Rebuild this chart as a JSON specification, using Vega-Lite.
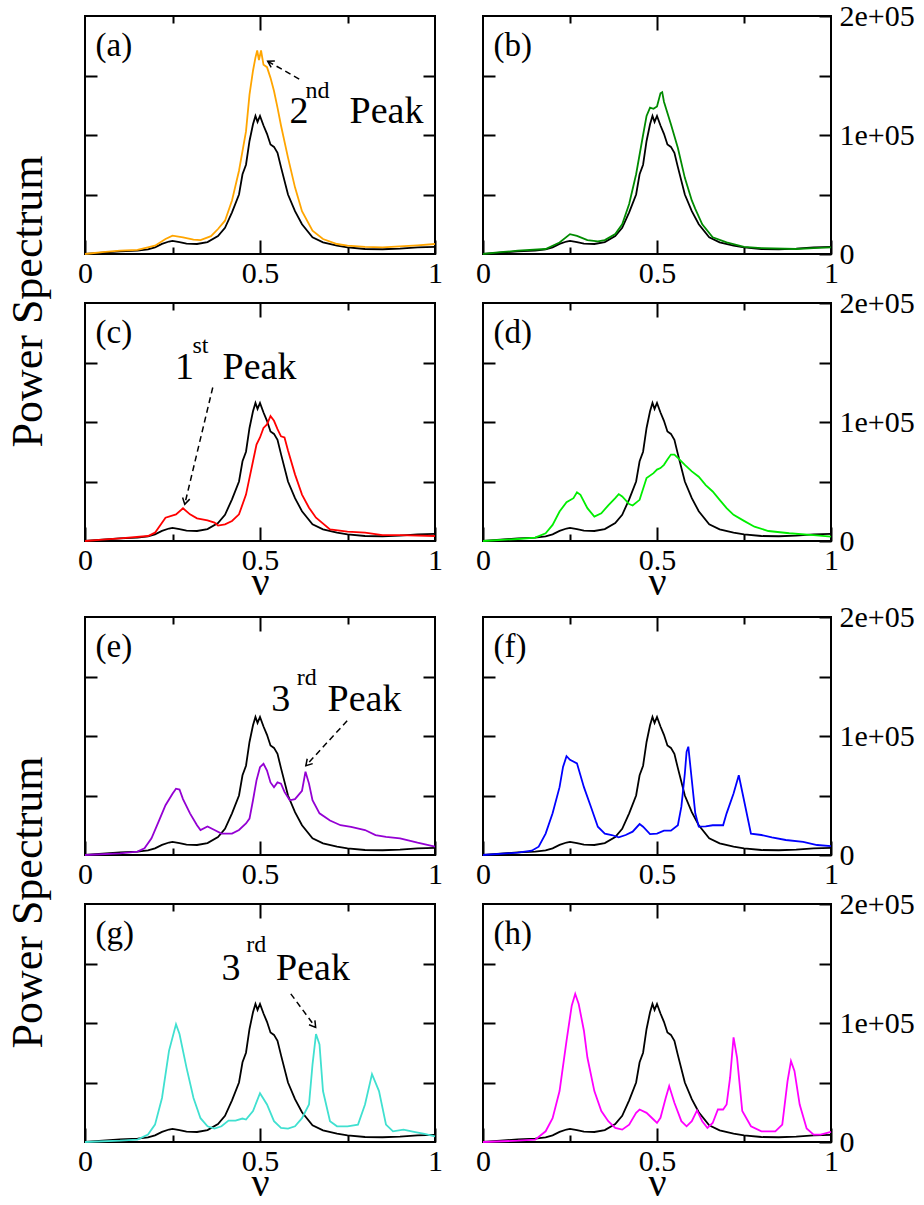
{
"$schema": "https://vega.github.io/schema/vega-lite/v6.json",
"padding": {"left": 6, "top": 0, "right": 0, "bottom": 0},
"background": "white",
"config": {
  "view": {"stroke": "black", "strokeWidth": 2},
  "axis": {"labelFont": "Liberation Serif", "titleFont": "Liberation Serif", "labelColor": "black", "titleColor": "black", "tickColor": "black", "tickWidth": 2, "domain": false, "grid": false, "labelFontSize": 30, "labelFlush": false, "labelOverlap": false, "titleFontWeight": "normal", "titleFontSize": 40},
  "title": {"font": "Liberation Serif", "fontWeight": "normal", "color": "black"},
  "text": {"font": "Liberation Serif", "color": "black"}
},
"datasets": {
  "ref": [{"nu":0,"p":0},{"nu":0.05,"p":1200},{"nu":0.1,"p":2200},{"nu":0.15,"p":2800},{"nu":0.18,"p":3800},{"nu":0.2,"p":5600},{"nu":0.22,"p":8500},{"nu":0.24,"p":10500},{"nu":0.25,"p":11000},{"nu":0.27,"p":10000},{"nu":0.29,"p":8800},{"nu":0.32,"p":8400},{"nu":0.35,"p":10000},{"nu":0.38,"p":15000},{"nu":0.4,"p":22000},{"nu":0.42,"p":35000},{"nu":0.44,"p":50000},{"nu":0.45,"p":67000},{"nu":0.46,"p":75000},{"nu":0.47,"p":95000},{"nu":0.48,"p":109000},{"nu":0.487,"p":116000},{"nu":0.493,"p":111000},{"nu":0.5,"p":116000},{"nu":0.51,"p":108000},{"nu":0.52,"p":101000},{"nu":0.53,"p":92000},{"nu":0.54,"p":90000},{"nu":0.55,"p":85000},{"nu":0.56,"p":73000},{"nu":0.58,"p":50000},{"nu":0.6,"p":36000},{"nu":0.62,"p":25000},{"nu":0.65,"p":14000},{"nu":0.68,"p":9800},{"nu":0.72,"p":7000},{"nu":0.75,"p":5600},{"nu":0.8,"p":4200},{"nu":0.85,"p":4000},{"nu":0.9,"p":4500},{"nu":0.95,"p":5500},{"nu":1,"p":6000}],
  "a": [{"nu":0,"p":0},{"nu":0.05,"p":1500},{"nu":0.1,"p":2800},{"nu":0.15,"p":3500},{"nu":0.2,"p":7000},{"nu":0.23,"p":12600},{"nu":0.25,"p":15400},{"nu":0.28,"p":14000},{"nu":0.31,"p":12000},{"nu":0.33,"p":11700},{"nu":0.36,"p":15000},{"nu":0.38,"p":21000},{"nu":0.4,"p":28000},{"nu":0.42,"p":45000},{"nu":0.44,"p":70000},{"nu":0.46,"p":103000},{"nu":0.47,"p":134000},{"nu":0.48,"p":154000},{"nu":0.487,"p":165000},{"nu":0.492,"p":171000},{"nu":0.497,"p":163000},{"nu":0.503,"p":171000},{"nu":0.51,"p":159000},{"nu":0.52,"p":157000},{"nu":0.53,"p":148000},{"nu":0.54,"p":137000},{"nu":0.55,"p":123000},{"nu":0.56,"p":108000},{"nu":0.58,"p":81000},{"nu":0.6,"p":56000},{"nu":0.62,"p":36000},{"nu":0.65,"p":19600},{"nu":0.68,"p":12600},{"nu":0.72,"p":8400},{"nu":0.75,"p":7000},{"nu":0.8,"p":6000},{"nu":0.85,"p":5600},{"nu":0.9,"p":6400},{"nu":0.95,"p":7300},{"nu":1,"p":8400}],
  "b": [{"nu":0,"p":0},{"nu":0.05,"p":1500},{"nu":0.1,"p":2800},{"nu":0.18,"p":4200},{"nu":0.22,"p":9700},{"nu":0.25,"p":16700},{"nu":0.27,"p":15300},{"nu":0.3,"p":11700},{"nu":0.33,"p":10600},{"nu":0.35,"p":11700},{"nu":0.38,"p":16700},{"nu":0.4,"p":25000},{"nu":0.42,"p":42000},{"nu":0.44,"p":67000},{"nu":0.46,"p":100000},{"nu":0.47,"p":116000},{"nu":0.48,"p":123000},{"nu":0.49,"p":122000},{"nu":0.5,"p":124000},{"nu":0.51,"p":135000},{"nu":0.515,"p":136000},{"nu":0.52,"p":128000},{"nu":0.54,"p":109000},{"nu":0.56,"p":89000},{"nu":0.58,"p":64000},{"nu":0.6,"p":45000},{"nu":0.61,"p":38000},{"nu":0.63,"p":25000},{"nu":0.66,"p":14000},{"nu":0.7,"p":9700},{"nu":0.75,"p":6000},{"nu":0.8,"p":5000},{"nu":0.9,"p":4200},{"nu":0.95,"p":5000},{"nu":1,"p":5600}],
  "c": [{"nu":0,"p":0},{"nu":0.05,"p":1200},{"nu":0.1,"p":2200},{"nu":0.18,"p":4200},{"nu":0.2,"p":7000},{"nu":0.23,"p":19600},{"nu":0.26,"p":22400},{"nu":0.28,"p":27500},{"nu":0.3,"p":22400},{"nu":0.32,"p":19000},{"nu":0.35,"p":17400},{"nu":0.37,"p":15400},{"nu":0.38,"p":13000},{"nu":0.4,"p":14000},{"nu":0.42,"p":16800},{"nu":0.44,"p":22400},{"nu":0.46,"p":39000},{"nu":0.47,"p":53000},{"nu":0.48,"p":67000},{"nu":0.49,"p":81000},{"nu":0.5,"p":87000},{"nu":0.51,"p":95000},{"nu":0.52,"p":98000},{"nu":0.53,"p":105000},{"nu":0.54,"p":101000},{"nu":0.55,"p":94000},{"nu":0.56,"p":88000},{"nu":0.57,"p":87000},{"nu":0.58,"p":76000},{"nu":0.6,"p":56000},{"nu":0.62,"p":39000},{"nu":0.64,"p":28000},{"nu":0.66,"p":19600},{"nu":0.7,"p":9800},{"nu":0.75,"p":7800},{"nu":0.8,"p":7000},{"nu":0.85,"p":5000},{"nu":0.9,"p":5000},{"nu":1,"p":4200}],
  "d": [{"nu":0,"p":0},{"nu":0.1,"p":1700},{"nu":0.15,"p":2800},{"nu":0.18,"p":6500},{"nu":0.2,"p":13500},{"nu":0.22,"p":24800},{"nu":0.24,"p":32600},{"nu":0.26,"p":36000},{"nu":0.27,"p":41000},{"nu":0.28,"p":38800},{"nu":0.3,"p":27600},{"nu":0.32,"p":20500},{"nu":0.34,"p":23300},{"nu":0.36,"p":30000},{"nu":0.38,"p":36000},{"nu":0.39,"p":39400},{"nu":0.4,"p":37400},{"nu":0.42,"p":31000},{"nu":0.43,"p":29800},{"nu":0.45,"p":34600},{"nu":0.47,"p":52900},{"nu":0.49,"p":57000},{"nu":0.5,"p":60000},{"nu":0.51,"p":61300},{"nu":0.52,"p":64000},{"nu":0.53,"p":68400},{"nu":0.54,"p":72600},{"nu":0.55,"p":72600},{"nu":0.56,"p":69800},{"nu":0.58,"p":64000},{"nu":0.6,"p":58500},{"nu":0.62,"p":54000},{"nu":0.64,"p":47000},{"nu":0.66,"p":41600},{"nu":0.68,"p":34600},{"nu":0.7,"p":27600},{"nu":0.72,"p":22000},{"nu":0.75,"p":16900},{"nu":0.78,"p":12000},{"nu":0.82,"p":8400},{"nu":0.88,"p":6500},{"nu":0.95,"p":5000},{"nu":1,"p":3700}],
  "e": [{"nu":0,"p":0},{"nu":0.1,"p":1400},{"nu":0.15,"p":2800},{"nu":0.17,"p":5600},{"nu":0.19,"p":14000},{"nu":0.21,"p":27900},{"nu":0.23,"p":41800},{"nu":0.25,"p":51500},{"nu":0.26,"p":55700},{"nu":0.27,"p":55000},{"nu":0.28,"p":47000},{"nu":0.3,"p":35000},{"nu":0.32,"p":25000},{"nu":0.33,"p":21000},{"nu":0.35,"p":24000},{"nu":0.37,"p":21000},{"nu":0.39,"p":18000},{"nu":0.42,"p":18000},{"nu":0.44,"p":21000},{"nu":0.46,"p":26500},{"nu":0.47,"p":30600},{"nu":0.48,"p":46000},{"nu":0.49,"p":62700},{"nu":0.5,"p":73800},{"nu":0.51,"p":76600},{"nu":0.52,"p":71000},{"nu":0.53,"p":61000},{"nu":0.54,"p":57000},{"nu":0.55,"p":61000},{"nu":0.56,"p":60000},{"nu":0.57,"p":53000},{"nu":0.585,"p":46000},{"nu":0.6,"p":47000},{"nu":0.62,"p":54000},{"nu":0.63,"p":70000},{"nu":0.64,"p":60000},{"nu":0.65,"p":46000},{"nu":0.67,"p":35000},{"nu":0.7,"p":29000},{"nu":0.73,"p":25000},{"nu":0.76,"p":23700},{"nu":0.8,"p":21000},{"nu":0.83,"p":16700},{"nu":0.86,"p":15300},{"nu":0.9,"p":14000},{"nu":0.95,"p":10300},{"nu":1,"p":7000}],
  "f": [{"nu":0,"p":0},{"nu":0.1,"p":2000},{"nu":0.14,"p":3600},{"nu":0.16,"p":7000},{"nu":0.18,"p":18000},{"nu":0.2,"p":35000},{"nu":0.22,"p":57000},{"nu":0.23,"p":74000},{"nu":0.24,"p":83000},{"nu":0.25,"p":80000},{"nu":0.27,"p":77000},{"nu":0.29,"p":57000},{"nu":0.31,"p":40600},{"nu":0.33,"p":23800},{"nu":0.35,"p":18000},{"nu":0.37,"p":16800},{"nu":0.39,"p":14800},{"nu":0.41,"p":16800},{"nu":0.43,"p":19600},{"nu":0.45,"p":26000},{"nu":0.46,"p":23800},{"nu":0.48,"p":17600},{"nu":0.5,"p":18000},{"nu":0.52,"p":20400},{"nu":0.54,"p":20400},{"nu":0.56,"p":25000},{"nu":0.57,"p":40600},{"nu":0.58,"p":68500},{"nu":0.585,"p":86700},{"nu":0.59,"p":91000},{"nu":0.6,"p":63000},{"nu":0.61,"p":35000},{"nu":0.62,"p":23800},{"nu":0.64,"p":24000},{"nu":0.66,"p":25000},{"nu":0.69,"p":25000},{"nu":0.7,"p":35000},{"nu":0.72,"p":51700},{"nu":0.735,"p":67000},{"nu":0.75,"p":46000},{"nu":0.77,"p":18000},{"nu":0.8,"p":16800},{"nu":0.83,"p":14800},{"nu":0.87,"p":12600},{"nu":0.92,"p":11000},{"nu":0.96,"p":8400},{"nu":1,"p":7500}],
  "g": [{"nu":0,"p":0},{"nu":0.1,"p":1100},{"nu":0.15,"p":2000},{"nu":0.18,"p":6200},{"nu":0.2,"p":14600},{"nu":0.22,"p":37000},{"nu":0.24,"p":76600},{"nu":0.26,"p":99000},{"nu":0.27,"p":90700},{"nu":0.29,"p":62500},{"nu":0.31,"p":37000},{"nu":0.33,"p":20000},{"nu":0.35,"p":13200},{"nu":0.37,"p":11300},{"nu":0.39,"p":13200},{"nu":0.41,"p":18000},{"nu":0.43,"p":18000},{"nu":0.45,"p":19700},{"nu":0.46,"p":18900},{"nu":0.48,"p":26000},{"nu":0.5,"p":41000},{"nu":0.52,"p":31500},{"nu":0.54,"p":17500},{"nu":0.56,"p":11800},{"nu":0.58,"p":11300},{"nu":0.6,"p":13200},{"nu":0.62,"p":20000},{"nu":0.64,"p":31500},{"nu":0.65,"p":65000},{"nu":0.66,"p":90700},{"nu":0.67,"p":82000},{"nu":0.68,"p":42800},{"nu":0.7,"p":17500},{"nu":0.72,"p":13200},{"nu":0.75,"p":13200},{"nu":0.78,"p":14600},{"nu":0.8,"p":31500},{"nu":0.82,"p":57000},{"nu":0.84,"p":42800},{"nu":0.86,"p":14600},{"nu":0.88,"p":9000},{"nu":0.91,"p":10400},{"nu":0.94,"p":8500},{"nu":0.97,"p":6800},{"nu":1,"p":4800}],
  "h": [{"nu":0,"p":0},{"nu":0.1,"p":1100},{"nu":0.15,"p":2000},{"nu":0.18,"p":9000},{"nu":0.2,"p":20000},{"nu":0.22,"p":42800},{"nu":0.24,"p":85000},{"nu":0.255,"p":114600},{"nu":0.265,"p":124500},{"nu":0.275,"p":116000},{"nu":0.29,"p":93500},{"nu":0.3,"p":71000},{"nu":0.32,"p":42800},{"nu":0.34,"p":26000},{"nu":0.36,"p":17500},{"nu":0.38,"p":11800},{"nu":0.4,"p":10400},{"nu":0.42,"p":14600},{"nu":0.44,"p":24500},{"nu":0.45,"p":27300},{"nu":0.47,"p":24500},{"nu":0.49,"p":18900},{"nu":0.5,"p":16000},{"nu":0.51,"p":20300},{"nu":0.525,"p":37000},{"nu":0.535,"p":47000},{"nu":0.55,"p":33000},{"nu":0.57,"p":17500},{"nu":0.585,"p":13200},{"nu":0.6,"p":17500},{"nu":0.615,"p":26500},{"nu":0.63,"p":17500},{"nu":0.645,"p":11800},{"nu":0.66,"p":16000},{"nu":0.675,"p":27300},{"nu":0.69,"p":27300},{"nu":0.7,"p":31500},{"nu":0.71,"p":54000},{"nu":0.72,"p":88000},{"nu":0.73,"p":71000},{"nu":0.745,"p":26000},{"nu":0.77,"p":13200},{"nu":0.8,"p":9000},{"nu":0.84,"p":9000},{"nu":0.86,"p":14600},{"nu":0.875,"p":51000},{"nu":0.885,"p":68000},{"nu":0.895,"p":59700},{"nu":0.91,"p":31500},{"nu":0.93,"p":11300},{"nu":0.95,"p":6200},{"nu":0.97,"p":6200},{"nu":1,"p":8500}]
},
"spacing": -2,
"vconcat": [
 {
  "title": {"text": "Power Spectrum", "orient": "left", "anchor": "middle", "fontSize": 44, "offset": 26},
  "spacing": -2,
  "vconcat": [
   {"spacing": 30, "hconcat": [
    {"width": 350, "height": 238, "resolve": {"axis": {"x": "independent", "y": "independent"}},
     "layer": [
      {"data": {"name": "ref"}, "mark": {"type": "line", "color": "black", "strokeWidth": 1.8},
       "encoding": {"x": {"field": "nu", "type": "quantitative", "scale": {"domain": [0, 1], "nice": false, "zero": false}, "axis": {"orient": "bottom", "values": [0, 0.5, 1], "tickSize": -14, "labelPadding": 18, "labelExpr": "datum.value == 0.5 ? '0.5' : (datum.value == 0 ? '0' : '1')", "title": null}},
        "y": {"field": "p", "type": "quantitative", "scale": {"domain": [0, 200000], "nice": false}, "axis": {"orient": "left", "values": [50000, 100000, 150000], "tickSize": -12, "labels": false, "title": null}}}},
      {"data": {"name": "a"}, "mark": {"type": "line", "color": "#FFA500", "strokeWidth": 1.8},
       "encoding": {"x": {"field": "nu", "type": "quantitative", "scale": {"domain": [0, 1], "nice": false, "zero": false}, "axis": {"orient": "top", "values": [0.5], "tickSize": -14, "labels": false, "title": null}},
        "y": {"field": "p", "type": "quantitative", "scale": {"domain": [0, 200000], "nice": false}, "axis": {"orient": "right", "values": [50000, 100000, 150000], "tickSize": -12, "labels": false, "title": null}}}},
      {"data": {"values": [{"nu": 0.03, "p": 175000, "t": "(a)"}]}, "mark": {"type": "text", "align": "left", "baseline": "middle", "fontSize": 33},
       "encoding": {"x": {"field": "nu", "type": "quantitative", "axis": {"orient": "bottom", "values": [0.25, 0.75], "tickSize": -7, "labels": false, "title": null}}, "y": {"field": "p", "type": "quantitative", "axis": null}, "text": {"field": "t"}}},
      {"data": {"values": [{"nu": 0.63, "p": 131000, "t": "nd"}]}, "mark": {"type": "text", "align": "left", "baseline": "alphabetic", "fontSize": 24},
       "encoding": {"x": {"field": "nu", "type": "quantitative", "axis": {"orient": "top", "values": [0.25, 0.75], "tickSize": -7, "labels": false, "title": null}}, "y": {"field": "p", "type": "quantitative", "axis": null}, "text": {"field": "t"}}},
      {"data": {"values": [{"nu": 0.584, "p": 110500, "t": "2"}, {"nu": 0.756, "p": 110500, "t": "Peak"}]}, "mark": {"type": "text", "align": "left", "baseline": "alphabetic", "fontSize": 38},
       "encoding": {"x": {"field": "nu", "type": "quantitative", "axis": null}, "y": {"field": "p", "type": "quantitative", "axis": null}, "text": {"field": "t"}}},
      {"data": {"values": [{"nu": 0.612, "p": 147000, "nu2": 0.522, "p2": 162000}]}, "mark": {"type": "rule", "color": "black", "strokeWidth": 1.5, "strokeDash": [6, 4]},
       "encoding": {"x": {"field": "nu", "type": "quantitative", "axis": null}, "y": {"field": "p", "type": "quantitative", "axis": null}, "x2": {"field": "nu2"}, "y2": {"field": "p2"}}},
      {"data": {"values": [{"nu": 0.522, "p": 162000}]}, "mark": {"type": "point", "shape": "M -1 -0.6 L 0 0 L -1 0.6", "filled": false, "color": "black", "strokeWidth": 1.5, "size": 150, "angle": 210, "opacity": 1},
       "encoding": {"x": {"field": "nu", "type": "quantitative", "axis": null}, "y": {"field": "p", "type": "quantitative", "axis": null}}}
     ]},
    {"width": 348, "height": 238, "resolve": {"axis": {"x": "independent", "y": "independent"}},
     "layer": [
      {"data": {"name": "ref"}, "mark": {"type": "line", "color": "black", "strokeWidth": 1.8},
       "encoding": {"x": {"field": "nu", "type": "quantitative", "scale": {"domain": [0, 1], "nice": false, "zero": false}, "axis": {"orient": "bottom", "values": [0, 0.5, 1], "tickSize": -14, "labelPadding": 18, "labelExpr": "datum.value == 0.5 ? '0.5' : (datum.value == 0 ? '0' : '1')", "title": null}},
        "y": {"field": "p", "type": "quantitative", "scale": {"domain": [0, 200000], "nice": false}, "axis": {"orient": "left", "values": [50000, 100000, 150000], "tickSize": -12, "labels": false, "title": null}}}},
      {"data": {"name": "b"}, "mark": {"type": "line", "color": "#008B00", "strokeWidth": 1.8},
       "encoding": {"x": {"field": "nu", "type": "quantitative", "scale": {"domain": [0, 1], "nice": false, "zero": false}, "axis": {"orient": "top", "values": [0.5], "tickSize": -14, "labels": false, "title": null}},
        "y": {"field": "p", "type": "quantitative", "scale": {"domain": [0, 200000], "nice": false}, "axis": {"orient": "right", "values": [0, 50000, 100000, 150000, 200000], "tickSize": -12, "labelPadding": 20, "labelAlign": "left", "labelBaseline": "middle", "labelExpr": "datum.value == 0 ? '0' : (datum.value == 100000 ? '1e+05' : (datum.value == 200000 ? '2e+05' : ''))", "title": null}}}},
      {"data": {"values": [{"nu": 0.03, "p": 175000, "t": "(b)"}]}, "mark": {"type": "text", "align": "left", "baseline": "middle", "fontSize": 33},
       "encoding": {"x": {"field": "nu", "type": "quantitative", "axis": {"orient": "bottom", "values": [0.25, 0.75], "tickSize": -7, "labels": false, "title": null}}, "y": {"field": "p", "type": "quantitative", "axis": null}, "text": {"field": "t"}}},
      {"data": {"values": []}, "mark": {"type": "text", "align": "left", "fontSize": 24},
       "encoding": {"x": {"field": "nu", "type": "quantitative", "axis": {"orient": "top", "values": [0.25, 0.75], "tickSize": -7, "labels": false, "title": null}}, "y": {"field": "p", "type": "quantitative", "axis": null}, "text": {"field": "t"}}}
     ]}
   ]},
   {"spacing": 30, "hconcat": [
    {"width": 350, "height": 238, "resolve": {"axis": {"x": "independent", "y": "independent"}},
     "layer": [
      {"data": {"name": "ref"}, "mark": {"type": "line", "color": "black", "strokeWidth": 1.8},
       "encoding": {"x": {"field": "nu", "type": "quantitative", "scale": {"domain": [0, 1], "nice": false, "zero": false}, "axis": {"orient": "bottom", "values": [0, 0.5, 1], "tickSize": -14, "labelPadding": 18, "labelExpr": "datum.value == 0.5 ? '0.5' : (datum.value == 0 ? '0' : '1')", "title": "ν", "titlePadding": -13}},
        "y": {"field": "p", "type": "quantitative", "scale": {"domain": [0, 200000], "nice": false}, "axis": {"orient": "left", "values": [50000, 100000, 150000], "tickSize": -12, "labels": false, "title": null}}}},
      {"data": {"name": "c"}, "mark": {"type": "line", "color": "#FF0000", "strokeWidth": 1.8},
       "encoding": {"x": {"field": "nu", "type": "quantitative", "scale": {"domain": [0, 1], "nice": false, "zero": false}, "axis": {"orient": "top", "values": [0.5], "tickSize": -14, "labels": false, "title": null}},
        "y": {"field": "p", "type": "quantitative", "scale": {"domain": [0, 200000], "nice": false}, "axis": {"orient": "right", "values": [50000, 100000, 150000], "tickSize": -12, "labels": false, "title": null}}}},
      {"data": {"values": [{"nu": 0.03, "p": 175000, "t": "(c)"}]}, "mark": {"type": "text", "align": "left", "baseline": "middle", "fontSize": 33},
       "encoding": {"x": {"field": "nu", "type": "quantitative", "axis": {"orient": "bottom", "values": [0.25, 0.75], "tickSize": -7, "labels": false, "title": null}}, "y": {"field": "p", "type": "quantitative", "axis": null}, "text": {"field": "t"}}},
      {"data": {"values": [{"nu": 0.307, "p": 158000, "t": "st"}]}, "mark": {"type": "text", "align": "left", "baseline": "alphabetic", "fontSize": 24},
       "encoding": {"x": {"field": "nu", "type": "quantitative", "axis": {"orient": "top", "values": [0.25, 0.75], "tickSize": -7, "labels": false, "title": null}}, "y": {"field": "p", "type": "quantitative", "axis": null}, "text": {"field": "t"}}},
      {"data": {"values": [{"nu": 0.257, "p": 136000, "t": "1"}, {"nu": 0.393, "p": 136000, "t": "Peak"}]}, "mark": {"type": "text", "align": "left", "baseline": "alphabetic", "fontSize": 38},
       "encoding": {"x": {"field": "nu", "type": "quantitative", "axis": null}, "y": {"field": "p", "type": "quantitative", "axis": null}, "text": {"field": "t"}}},
      {"data": {"values": [{"nu": 0.365, "p": 129000, "nu2": 0.285, "p2": 30900}]}, "mark": {"type": "rule", "color": "black", "strokeWidth": 1.5, "strokeDash": [6, 4]},
       "encoding": {"x": {"field": "nu", "type": "quantitative", "axis": null}, "y": {"field": "p", "type": "quantitative", "axis": null}, "x2": {"field": "nu2"}, "y2": {"field": "p2"}}},
      {"data": {"values": [{"nu": 0.285, "p": 30900}]}, "mark": {"type": "point", "shape": "M -1 -0.6 L 0 0 L -1 0.6", "filled": false, "color": "black", "strokeWidth": 1.5, "size": 150, "angle": 103.5, "opacity": 1},
       "encoding": {"x": {"field": "nu", "type": "quantitative", "axis": null}, "y": {"field": "p", "type": "quantitative", "axis": null}}}
     ]},
    {"width": 348, "height": 238, "resolve": {"axis": {"x": "independent", "y": "independent"}},
     "layer": [
      {"data": {"name": "ref"}, "mark": {"type": "line", "color": "black", "strokeWidth": 1.8},
       "encoding": {"x": {"field": "nu", "type": "quantitative", "scale": {"domain": [0, 1], "nice": false, "zero": false}, "axis": {"orient": "bottom", "values": [0, 0.5, 1], "tickSize": -14, "labelPadding": 18, "labelExpr": "datum.value == 0.5 ? '0.5' : (datum.value == 0 ? '0' : '1')", "title": "ν", "titlePadding": -13}},
        "y": {"field": "p", "type": "quantitative", "scale": {"domain": [0, 200000], "nice": false}, "axis": {"orient": "left", "values": [50000, 100000, 150000], "tickSize": -12, "labels": false, "title": null}}}},
      {"data": {"name": "d"}, "mark": {"type": "line", "color": "#00EE00", "strokeWidth": 1.8},
       "encoding": {"x": {"field": "nu", "type": "quantitative", "scale": {"domain": [0, 1], "nice": false, "zero": false}, "axis": {"orient": "top", "values": [0.5], "tickSize": -14, "labels": false, "title": null}},
        "y": {"field": "p", "type": "quantitative", "scale": {"domain": [0, 200000], "nice": false}, "axis": {"orient": "right", "values": [0, 50000, 100000, 150000, 200000], "tickSize": -12, "labelPadding": 20, "labelAlign": "left", "labelBaseline": "middle", "labelExpr": "datum.value == 0 ? '0' : (datum.value == 100000 ? '1e+05' : (datum.value == 200000 ? '2e+05' : ''))", "title": null}}}},
      {"data": {"values": [{"nu": 0.03, "p": 175000, "t": "(d)"}]}, "mark": {"type": "text", "align": "left", "baseline": "middle", "fontSize": 33},
       "encoding": {"x": {"field": "nu", "type": "quantitative", "axis": {"orient": "bottom", "values": [0.25, 0.75], "tickSize": -7, "labels": false, "title": null}}, "y": {"field": "p", "type": "quantitative", "axis": null}, "text": {"field": "t"}}},
      {"data": {"values": []}, "mark": {"type": "text", "align": "left", "fontSize": 24},
       "encoding": {"x": {"field": "nu", "type": "quantitative", "axis": {"orient": "top", "values": [0.25, 0.75], "tickSize": -7, "labels": false, "title": null}}, "y": {"field": "p", "type": "quantitative", "axis": null}, "text": {"field": "t"}}}
     ]}
   ]}
  ]
 },
 {
  "title": {"text": "Power Spectrum", "orient": "left", "anchor": "middle", "fontSize": 44, "offset": 26},
  "spacing": -2,
  "vconcat": [
   {"spacing": 30, "hconcat": [
    {"width": 350, "height": 238, "resolve": {"axis": {"x": "independent", "y": "independent"}},
     "layer": [
      {"data": {"name": "ref"}, "mark": {"type": "line", "color": "black", "strokeWidth": 1.8},
       "encoding": {"x": {"field": "nu", "type": "quantitative", "scale": {"domain": [0, 1], "nice": false, "zero": false}, "axis": {"orient": "bottom", "values": [0, 0.5, 1], "tickSize": -14, "labelPadding": 18, "labelExpr": "datum.value == 0.5 ? '0.5' : (datum.value == 0 ? '0' : '1')", "title": null}},
        "y": {"field": "p", "type": "quantitative", "scale": {"domain": [0, 200000], "nice": false}, "axis": {"orient": "left", "values": [50000, 100000, 150000], "tickSize": -12, "labels": false, "title": null}}}},
      {"data": {"name": "e"}, "mark": {"type": "line", "color": "#9400D3", "strokeWidth": 1.8},
       "encoding": {"x": {"field": "nu", "type": "quantitative", "scale": {"domain": [0, 1], "nice": false, "zero": false}, "axis": {"orient": "top", "values": [0.5], "tickSize": -14, "labels": false, "title": null}},
        "y": {"field": "p", "type": "quantitative", "scale": {"domain": [0, 200000], "nice": false}, "axis": {"orient": "right", "values": [50000, 100000, 150000], "tickSize": -12, "labels": false, "title": null}}}},
      {"data": {"values": [{"nu": 0.03, "p": 175000, "t": "(e)"}]}, "mark": {"type": "text", "align": "left", "baseline": "middle", "fontSize": 33},
       "encoding": {"x": {"field": "nu", "type": "quantitative", "axis": {"orient": "bottom", "values": [0.25, 0.75], "tickSize": -7, "labels": false, "title": null}}, "y": {"field": "p", "type": "quantitative", "axis": null}, "text": {"field": "t"}}},
      {"data": {"values": [{"nu": 0.605, "p": 143000, "t": "rd"}]}, "mark": {"type": "text", "align": "left", "baseline": "alphabetic", "fontSize": 24},
       "encoding": {"x": {"field": "nu", "type": "quantitative", "axis": {"orient": "top", "values": [0.25, 0.75], "tickSize": -7, "labels": false, "title": null}}, "y": {"field": "p", "type": "quantitative", "axis": null}, "text": {"field": "t"}}},
      {"data": {"values": [{"nu": 0.532, "p": 121000, "t": "3"}, {"nu": 0.693, "p": 121000, "t": "Peak"}]}, "mark": {"type": "text", "align": "left", "baseline": "alphabetic", "fontSize": 38},
       "encoding": {"x": {"field": "nu", "type": "quantitative", "axis": null}, "y": {"field": "p", "type": "quantitative", "axis": null}, "text": {"field": "t"}}},
      {"data": {"values": [{"nu": 0.749, "p": 112800, "nu2": 0.631, "p2": 75000}]}, "mark": {"type": "rule", "color": "black", "strokeWidth": 1.5, "strokeDash": [6, 4]},
       "encoding": {"x": {"field": "nu", "type": "quantitative", "axis": null}, "y": {"field": "p", "type": "quantitative", "axis": null}, "x2": {"field": "nu2"}, "y2": {"field": "p2"}}},
      {"data": {"values": [{"nu": 0.631, "p": 75000}]}, "mark": {"type": "point", "shape": "M -1 -0.6 L 0 0 L -1 0.6", "filled": false, "color": "black", "strokeWidth": 1.5, "size": 150, "angle": 132, "opacity": 1},
       "encoding": {"x": {"field": "nu", "type": "quantitative", "axis": null}, "y": {"field": "p", "type": "quantitative", "axis": null}}}
     ]},
    {"width": 348, "height": 238, "resolve": {"axis": {"x": "independent", "y": "independent"}},
     "layer": [
      {"data": {"name": "ref"}, "mark": {"type": "line", "color": "black", "strokeWidth": 1.8},
       "encoding": {"x": {"field": "nu", "type": "quantitative", "scale": {"domain": [0, 1], "nice": false, "zero": false}, "axis": {"orient": "bottom", "values": [0, 0.5, 1], "tickSize": -14, "labelPadding": 18, "labelExpr": "datum.value == 0.5 ? '0.5' : (datum.value == 0 ? '0' : '1')", "title": null}},
        "y": {"field": "p", "type": "quantitative", "scale": {"domain": [0, 200000], "nice": false}, "axis": {"orient": "left", "values": [50000, 100000, 150000], "tickSize": -12, "labels": false, "title": null}}}},
      {"data": {"name": "f"}, "mark": {"type": "line", "color": "#0000FF", "strokeWidth": 1.8},
       "encoding": {"x": {"field": "nu", "type": "quantitative", "scale": {"domain": [0, 1], "nice": false, "zero": false}, "axis": {"orient": "top", "values": [0.5], "tickSize": -14, "labels": false, "title": null}},
        "y": {"field": "p", "type": "quantitative", "scale": {"domain": [0, 200000], "nice": false}, "axis": {"orient": "right", "values": [0, 50000, 100000, 150000, 200000], "tickSize": -12, "labelPadding": 20, "labelAlign": "left", "labelBaseline": "middle", "labelExpr": "datum.value == 0 ? '0' : (datum.value == 100000 ? '1e+05' : (datum.value == 200000 ? '2e+05' : ''))", "title": null}}}},
      {"data": {"values": [{"nu": 0.03, "p": 175000, "t": "(f)"}]}, "mark": {"type": "text", "align": "left", "baseline": "middle", "fontSize": 33},
       "encoding": {"x": {"field": "nu", "type": "quantitative", "axis": {"orient": "bottom", "values": [0.25, 0.75], "tickSize": -7, "labels": false, "title": null}}, "y": {"field": "p", "type": "quantitative", "axis": null}, "text": {"field": "t"}}},
      {"data": {"values": []}, "mark": {"type": "text", "align": "left", "fontSize": 24},
       "encoding": {"x": {"field": "nu", "type": "quantitative", "axis": {"orient": "top", "values": [0.25, 0.75], "tickSize": -7, "labels": false, "title": null}}, "y": {"field": "p", "type": "quantitative", "axis": null}, "text": {"field": "t"}}}
     ]}
   ]},
   {"spacing": 30, "hconcat": [
    {"width": 350, "height": 238, "resolve": {"axis": {"x": "independent", "y": "independent"}},
     "layer": [
      {"data": {"name": "ref"}, "mark": {"type": "line", "color": "black", "strokeWidth": 1.8},
       "encoding": {"x": {"field": "nu", "type": "quantitative", "scale": {"domain": [0, 1], "nice": false, "zero": false}, "axis": {"orient": "bottom", "values": [0, 0.5, 1], "tickSize": -14, "labelPadding": 18, "labelExpr": "datum.value == 0.5 ? '0.5' : (datum.value == 0 ? '0' : '1')", "title": "ν", "titlePadding": -13}},
        "y": {"field": "p", "type": "quantitative", "scale": {"domain": [0, 200000], "nice": false}, "axis": {"orient": "left", "values": [50000, 100000, 150000], "tickSize": -12, "labels": false, "title": null}}}},
      {"data": {"name": "g"}, "mark": {"type": "line", "color": "#40E0D0", "strokeWidth": 1.8},
       "encoding": {"x": {"field": "nu", "type": "quantitative", "scale": {"domain": [0, 1], "nice": false, "zero": false}, "axis": {"orient": "top", "values": [0.5], "tickSize": -14, "labels": false, "title": null}},
        "y": {"field": "p", "type": "quantitative", "scale": {"domain": [0, 200000], "nice": false}, "axis": {"orient": "right", "values": [50000, 100000, 150000], "tickSize": -12, "labels": false, "title": null}}}},
      {"data": {"values": [{"nu": 0.03, "p": 175000, "t": "(g)"}]}, "mark": {"type": "text", "align": "left", "baseline": "middle", "fontSize": 33},
       "encoding": {"x": {"field": "nu", "type": "quantitative", "axis": {"orient": "bottom", "values": [0.25, 0.75], "tickSize": -7, "labels": false, "title": null}}, "y": {"field": "p", "type": "quantitative", "axis": null}, "text": {"field": "t"}}},
      {"data": {"values": [{"nu": 0.461, "p": 160000, "t": "rd"}]}, "mark": {"type": "text", "align": "left", "baseline": "alphabetic", "fontSize": 24},
       "encoding": {"x": {"field": "nu", "type": "quantitative", "axis": {"orient": "top", "values": [0.25, 0.75], "tickSize": -7, "labels": false, "title": null}}, "y": {"field": "p", "type": "quantitative", "axis": null}, "text": {"field": "t"}}},
      {"data": {"values": [{"nu": 0.39, "p": 135800, "t": "3"}, {"nu": 0.546, "p": 135800, "t": "Peak"}]}, "mark": {"type": "text", "align": "left", "baseline": "alphabetic", "fontSize": 38},
       "encoding": {"x": {"field": "nu", "type": "quantitative", "axis": null}, "y": {"field": "p", "type": "quantitative", "axis": null}, "text": {"field": "t"}}},
      {"data": {"values": [{"nu": 0.588, "p": 124500, "nu2": 0.659, "p2": 96300}]}, "mark": {"type": "rule", "color": "black", "strokeWidth": 1.5, "strokeDash": [6, 4]},
       "encoding": {"x": {"field": "nu", "type": "quantitative", "axis": null}, "y": {"field": "p", "type": "quantitative", "axis": null}, "x2": {"field": "nu2"}, "y2": {"field": "p2"}}},
      {"data": {"values": [{"nu": 0.659, "p": 96300}]}, "mark": {"type": "point", "shape": "M -1 -0.6 L 0 0 L -1 0.6", "filled": false, "color": "black", "strokeWidth": 1.5, "size": 150, "angle": 53, "opacity": 1},
       "encoding": {"x": {"field": "nu", "type": "quantitative", "axis": null}, "y": {"field": "p", "type": "quantitative", "axis": null}}}
     ]},
    {"width": 348, "height": 238, "resolve": {"axis": {"x": "independent", "y": "independent"}},
     "layer": [
      {"data": {"name": "ref"}, "mark": {"type": "line", "color": "black", "strokeWidth": 1.8},
       "encoding": {"x": {"field": "nu", "type": "quantitative", "scale": {"domain": [0, 1], "nice": false, "zero": false}, "axis": {"orient": "bottom", "values": [0, 0.5, 1], "tickSize": -14, "labelPadding": 18, "labelExpr": "datum.value == 0.5 ? '0.5' : (datum.value == 0 ? '0' : '1')", "title": "ν", "titlePadding": -13}},
        "y": {"field": "p", "type": "quantitative", "scale": {"domain": [0, 200000], "nice": false}, "axis": {"orient": "left", "values": [50000, 100000, 150000], "tickSize": -12, "labels": false, "title": null}}}},
      {"data": {"name": "h"}, "mark": {"type": "line", "color": "#FF00FF", "strokeWidth": 1.8},
       "encoding": {"x": {"field": "nu", "type": "quantitative", "scale": {"domain": [0, 1], "nice": false, "zero": false}, "axis": {"orient": "top", "values": [0.5], "tickSize": -14, "labels": false, "title": null}},
        "y": {"field": "p", "type": "quantitative", "scale": {"domain": [0, 200000], "nice": false}, "axis": {"orient": "right", "values": [0, 50000, 100000, 150000, 200000], "tickSize": -12, "labelPadding": 20, "labelAlign": "left", "labelBaseline": "middle", "labelExpr": "datum.value == 0 ? '0' : (datum.value == 100000 ? '1e+05' : (datum.value == 200000 ? '2e+05' : ''))", "title": null}}}},
      {"data": {"values": [{"nu": 0.03, "p": 175000, "t": "(h)"}]}, "mark": {"type": "text", "align": "left", "baseline": "middle", "fontSize": 33},
       "encoding": {"x": {"field": "nu", "type": "quantitative", "axis": {"orient": "bottom", "values": [0.25, 0.75], "tickSize": -7, "labels": false, "title": null}}, "y": {"field": "p", "type": "quantitative", "axis": null}, "text": {"field": "t"}}},
      {"data": {"values": []}, "mark": {"type": "text", "align": "left", "fontSize": 24},
       "encoding": {"x": {"field": "nu", "type": "quantitative", "axis": {"orient": "top", "values": [0.25, 0.75], "tickSize": -7, "labels": false, "title": null}}, "y": {"field": "p", "type": "quantitative", "axis": null}, "text": {"field": "t"}}}
     ]}
   ]}
  ]
 }
]
}
